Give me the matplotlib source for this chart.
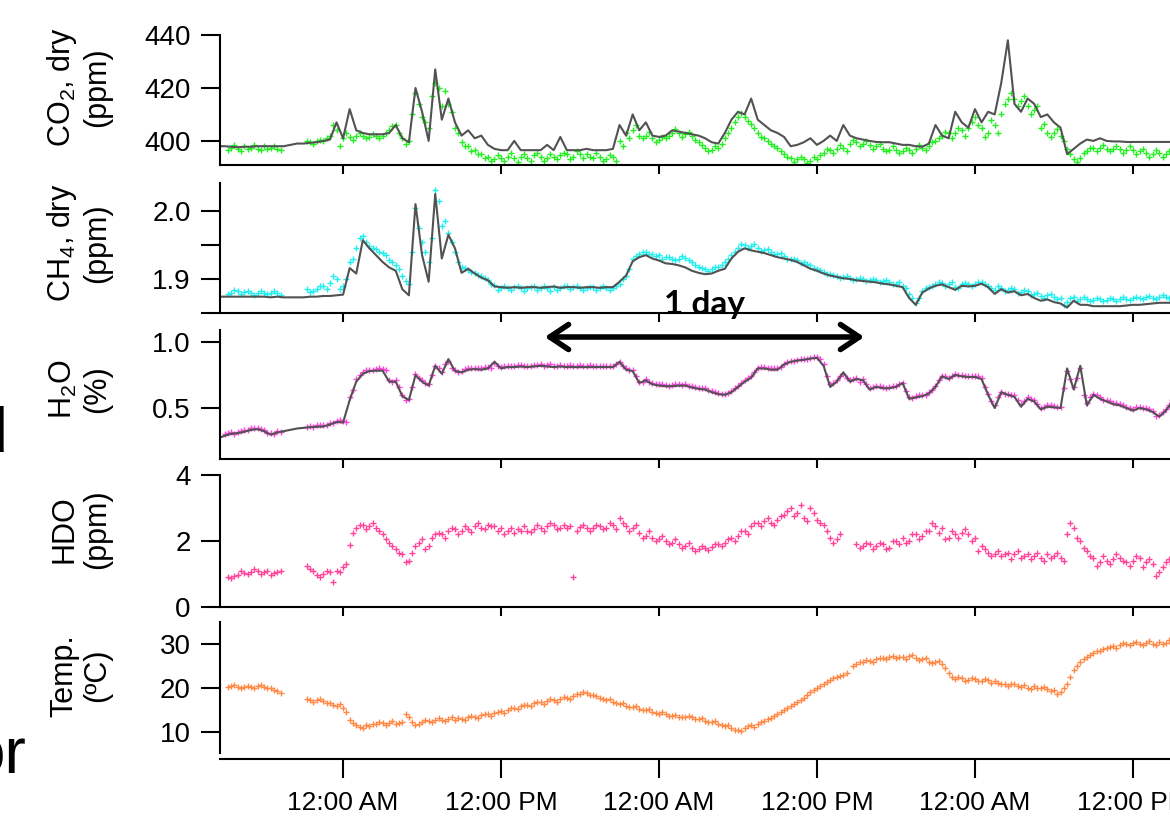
"""Five stacked time series: CO2, CH4, H2O, HDO and temperature."""

import matplotlib

matplotlib.use("Agg")
import matplotlib.dates as mdates
import matplotlib.pyplot as plt
import numpy as np
import pandas as pd

nan = np.nan

# half-hour samples, first one at 2:30 PM the day before the first midnight;
# the "_b" point sets sit a quarter hour later
times = pd.date_range("2014-06-30 14:30", periods=146, freq="30min")
times_b = pd.date_range("2014-06-30 14:45", periods=146, freq="30min")
x_start = pd.Timestamp("2014-06-30 14:39")
x_end = pd.Timestamp("2014-07-03 14:49")

# 12 values per row = 6 hours
co2_line = [
    398, 398, 397.8, 397.6, 397.8, 397.8, 398, 398, 398, 398, 398, 398.5,
    399, 399, 399.3, 399.5, 400, 400.5, 407, 401, 412, 404, 403, 402.5,
    402.5, 402.5, 403, 406, 401, 399.5, 420, 411, 400, 427, 408, 416,
    407, 402, 404, 401, 402, 398.5, 397, 396.5, 396.5, 400, 396.5, 396.5,
    396.5, 396.5, 398.5, 396.5, 401.5, 396.5, 396.5, 396.5, 397, 396.5, 396.5, 396.5,
    397, 406, 402, 410, 404, 407, 402, 401.5, 402, 404, 403.5, 403,
    402.5, 402, 401, 399.5, 399, 403, 408, 411, 410, 416, 408, 406,
    404, 403, 401.5, 398, 398.5, 399.5, 401, 398.5, 400, 402, 400, 406,
    402, 401, 400.5, 400, 399.6, 399.5, 399.5, 399, 398.5, 398.5, 398, 397.8,
    399, 406, 402, 401, 411, 407, 405, 412, 407, 411, 410, 422,
    438, 414, 411, 416, 414, 409, 410, 407, 405, 395, 397, 399,
    400.5, 400, 401, 400, 399.8, 399.8, 399.6, 399.6, 399.6, 399.6, 399.6, 399.6,
    399.6, 399.6,
]
co2_pts = [
    nan, nan, 397.5, 397, 398, 397.5, 397, 398, 397.5, 397, nan, nan,
    nan, nan, 399.5, 399.8, 400, 402, 404, 401, 401.5, 402, 402, 401.5,
    402, 402, 404, 406, 401, 400, 418, 409, 405, 422, 413, 414,
    405, 399.5, 398, 396.5, 395, 394, 393, 393.5, 394, 393.5, 394, 393.5,
    394.5, 394, 393.5, 394, 394.5, 395, 394, 395, 395, 393.5, 394, 393,
    394, 400, 403, 404, 402, 402, 401, 400.5, 401, 403, 403, 402.5,
    402, 399.5, 397.5, 396.5, 397.5, 401, 405, 409, 409, 406.5, 403, 401,
    399, 397.5, 395, 393.5, 393, 393, 392.5, 393, 395.5, 396.5, 397, 397.5,
    399, 399.5, 399, 398.5, 398, 397, 396.5, 396.5, 396, 396.5, 397, 397.5,
    398, 400, 402, 403, 403, 404, 405, 409, 405, 403, 406, 410,
    416, 416, 415, 413, 411.5, 405, 403, 403, 402, 397, 393, 393.5,
    396, 397.5, 397.5, 397, 397, 397, 396.5, 396.5, 396, 395.5, 395, 395.5,
    395, 395,
]
co2_pts_b = [
    nan, 396.5, 398.5, 396, 397, 398.5, 396.5, 397, 398, 396.5, nan, nan,
    nan, 400, 399, 400.5, 401, 406, 398, 403, 400.5, 403, 401, 402.5,
    401, 403, 405.5, 403, 399, 410, 414, 407, 417, 420, 419, 411,
    403, 398, 396, 395, 393.5, 392.5, 394.5, 392.5, 395.5, 392, 395, 392.5,
    395.5, 392.5, 395, 393, 395.5, 393, 396, 393.5, 394, 395.5, 392.5, 394.5,
    392.5, 398, 401, 406, 401, 403.5, 399.5, 401.5, 402, 404.5, 401.5, 403.5,
    400.5, 398.5, 396, 398, 399, 403, 407, 410.5, 407.5, 405, 401.5, 400,
    398, 396, 394, 392, 394, 391.5, 394, 394.5, 397, 395.5, 398.5, 396,
    400.5, 398, 400, 397, 399, 396, 398, 395.5, 397.5, 395.5, 398.5, 396.5,
    399.5, 401, 403.5, 401, 405, 402, 407, 406, 401.5, 408, 403, 414,
    418, 413, 417, 410, 413, 406.5, 401.5, 404.5, 400, 395, 392, 395.5,
    397.5, 396, 398.5, 396, 398, 395.5, 398, 395, 397, 394, 396.5, 394,
    396, 394.5,
]

ch4_line = [
    1.874, 1.874, 1.874, 1.874, 1.874, 1.874, 1.874, 1.874, 1.873, 1.874, 1.873, 1.873,
    1.873, 1.873, 1.874, 1.874, 1.875, 1.875, 1.876, 1.877, 1.916, 1.908, 1.957, 1.945,
    1.935, 1.925, 1.917, 1.912, 1.885, 1.876, 2.01, 1.935, 1.896, 2.025, 1.93, 1.965,
    1.945, 1.909, 1.915, 1.908, 1.902, 1.898, 1.889, 1.888, 1.887, 1.888, 1.887, 1.888,
    1.888, 1.887, 1.888, 1.889, 1.887, 1.888, 1.888, 1.887, 1.888, 1.888, 1.887, 1.888,
    1.888, 1.896, 1.905, 1.926, 1.932, 1.935, 1.93, 1.927, 1.923, 1.922, 1.92, 1.917,
    1.912, 1.909, 1.907, 1.908, 1.912, 1.915, 1.93, 1.94, 1.945, 1.942, 1.94, 1.938,
    1.935, 1.932, 1.93, 1.928, 1.925, 1.92, 1.915, 1.912, 1.908, 1.905, 1.903, 1.901,
    1.9, 1.898, 1.897, 1.896, 1.895, 1.893, 1.892, 1.89, 1.888, 1.872, 1.862, 1.88,
    1.886, 1.89, 1.892, 1.888, 1.884, 1.89, 1.889, 1.89, 1.893, 1.888, 1.878, 1.885,
    1.88, 1.882, 1.876, 1.878, 1.872, 1.868, 1.87, 1.866, 1.864, 1.858, 1.868, 1.862,
    1.862, 1.86, 1.86, 1.86, 1.86, 1.86, 1.861, 1.862, 1.862, 1.863, 1.864, 1.865,
    1.865, 1.865,
]
ch4_pts = [
    nan, nan, 1.88, 1.882, 1.881, 1.88, 1.879, 1.88, 1.879, 1.88, nan, nan,
    nan, nan, 1.881, 1.885, 1.889, 1.894, 1.9, 1.889, 1.925, 1.945, 1.963, 1.948,
    1.944, 1.938, 1.928, 1.92, 1.905, 1.892, 2.005, 1.955, 1.925, 2.03, 1.978, 1.968,
    1.94, 1.918, 1.913, 1.909, 1.905, 1.899, 1.891, 1.887, 1.886, 1.888, 1.886, 1.887,
    1.889, 1.887, 1.886, 1.888, 1.887, 1.889, 1.888, 1.887, 1.886, 1.888, 1.887, 1.886,
    1.886, 1.893, 1.905, 1.93, 1.937, 1.94, 1.937, 1.935, 1.932, 1.93, 1.93, 1.931,
    1.925, 1.918, 1.915, 1.914, 1.918, 1.925, 1.935, 1.945, 1.95, 1.948, 1.945, 1.943,
    1.94, 1.937, 1.934, 1.93, 1.928, 1.925, 1.92, 1.915, 1.91, 1.907, 1.905, 1.903,
    1.902, 1.9, 1.9, 1.899, 1.898, 1.897, 1.896, 1.893, 1.89, 1.878, 1.865, 1.882,
    1.888, 1.892, 1.894, 1.892, 1.888, 1.892, 1.892, 1.893, 1.895, 1.89, 1.884, 1.887,
    1.884, 1.885, 1.881, 1.882, 1.878, 1.875, 1.876, 1.873, 1.872, 1.866, 1.874, 1.87,
    1.871, 1.869, 1.87, 1.869, 1.87, 1.871, 1.87, 1.872, 1.872, 1.873, 1.872, 1.874,
    1.873, 1.874,
]
ch4_pts_b = [
    nan, 1.878, 1.884, 1.878, 1.883, 1.877, 1.882, 1.878, 1.883, 1.877, nan, nan,
    nan, 1.885, 1.883, 1.89, 1.885, 1.905, 1.885, 1.9, 1.93, 1.96, 1.955, 1.945,
    1.94, 1.935, 1.925, 1.915, 1.897, 1.94, 1.975, 1.94, 1.96, 2.015, 1.985, 1.955,
    1.925, 1.916, 1.91, 1.906, 1.901, 1.893, 1.884, 1.889, 1.884, 1.89, 1.883, 1.888,
    1.884, 1.89, 1.883, 1.884, 1.89, 1.885, 1.89, 1.884, 1.888, 1.884, 1.889, 1.884,
    1.89, 1.9, 1.915, 1.934, 1.94, 1.936, 1.934, 1.929, 1.933, 1.928, 1.934, 1.928,
    1.921, 1.916, 1.912, 1.917, 1.92, 1.93, 1.94, 1.951, 1.946, 1.951, 1.941, 1.944,
    1.936, 1.938, 1.93, 1.93, 1.924, 1.922, 1.916, 1.913, 1.908, 1.906, 1.902, 1.904,
    1.898, 1.902, 1.897, 1.9, 1.895, 1.898, 1.893, 1.895, 1.886, 1.872, 1.872, 1.886,
    1.89, 1.896, 1.89, 1.895, 1.886, 1.894, 1.889, 1.896, 1.892, 1.886, 1.89, 1.883,
    1.887, 1.879, 1.884, 1.876, 1.88, 1.872, 1.878, 1.87, 1.862, 1.872, 1.868, 1.873,
    1.868, 1.872, 1.867, 1.872, 1.868, 1.873, 1.869, 1.874, 1.87, 1.875, 1.871, 1.876,
    1.872, 1.875,
]

h2o_line = [
    0.27, 0.29, 0.305, 0.31, 0.32, 0.335, 0.34, 0.325, 0.298, 0.315, 0.325, 0.335,
    0.345, 0.35, 0.355, 0.358, 0.36, 0.375, 0.395, 0.39, 0.56, 0.7, 0.76, 0.78,
    0.783, 0.783, 0.7, 0.7, 0.59, 0.56, 0.75, 0.7, 0.67, 0.82, 0.76, 0.87,
    0.78, 0.77, 0.79, 0.795, 0.79, 0.8, 0.85, 0.8, 0.81, 0.81, 0.815, 0.81,
    0.815, 0.82, 0.815, 0.81, 0.815, 0.81, 0.81, 0.81, 0.81, 0.81, 0.81, 0.81,
    0.81, 0.85, 0.79, 0.78, 0.69, 0.71, 0.68, 0.67, 0.665, 0.665, 0.67, 0.67,
    0.655, 0.645, 0.64, 0.62, 0.605, 0.6, 0.62, 0.66, 0.7, 0.73, 0.8, 0.8,
    0.79, 0.79, 0.83, 0.85, 0.86, 0.865, 0.875, 0.88, 0.82, 0.66, 0.7, 0.77,
    0.7, 0.72, 0.71, 0.64, 0.66, 0.65, 0.65, 0.66, 0.69, 0.57, 0.58, 0.59,
    0.61, 0.66, 0.74, 0.72, 0.75, 0.74, 0.735, 0.735, 0.72, 0.6, 0.5, 0.62,
    0.6, 0.585, 0.51, 0.57, 0.55, 0.49, 0.51, 0.505, 0.5, 0.8, 0.64, 0.82,
    0.52, 0.6, 0.57, 0.55, 0.53, 0.52, 0.5, 0.48, 0.5, 0.49, 0.47, 0.435,
    0.48, 0.55,
]
h2o_pts = [
    nan, 0.3, 0.315, 0.32, 0.33, 0.345, 0.35, 0.335, 0.31, 0.325, nan, nan,
    nan, nan, 0.365, 0.368, 0.372, 0.385, 0.405, 0.4, 0.58, 0.72, 0.775, 0.79,
    0.795, 0.795, 0.71, 0.71, 0.6, 0.57, 0.76, 0.71, 0.68, 0.82, 0.77, 0.86,
    0.79, 0.78, 0.8, 0.805, 0.8, 0.81, 0.84, 0.81, 0.82, 0.82, 0.825, 0.82,
    0.825, 0.83, 0.825, 0.82, 0.825, 0.82, 0.82, 0.825, 0.82, 0.82, 0.82, 0.815,
    0.82, 0.85, 0.8, 0.79, 0.7, 0.72, 0.69, 0.68, 0.675, 0.675, 0.68, 0.68,
    0.665, 0.655, 0.65, 0.63, 0.615, 0.61, 0.63, 0.67, 0.71, 0.74, 0.8, 0.81,
    0.8, 0.8, 0.835, 0.855, 0.865, 0.87, 0.88, 0.885, 0.83, 0.68, 0.71, 0.76,
    0.71, 0.73, 0.72, 0.655, 0.67, 0.66, 0.66, 0.67, 0.69, 0.58, 0.59, 0.6,
    0.62, 0.67, 0.745, 0.73, 0.755, 0.75, 0.745, 0.745, 0.73, 0.61, 0.52, 0.625,
    0.61, 0.595, 0.53, 0.58, 0.56, 0.5, 0.52, 0.515, 0.51, 0.78, 0.66, 0.8,
    0.54, 0.61, 0.58, 0.56, 0.54, 0.53, 0.51, 0.49, 0.51, 0.5, 0.48, 0.45,
    0.49, 0.56,
]
h2o_pts_b = [
    nan, 0.31, 0.305, 0.325, 0.335, 0.345, 0.34, 0.31, 0.305, 0.32, nan, nan,
    nan, 0.36, 0.36, 0.37, 0.375, 0.39, 0.41, 0.395, 0.64, 0.75, 0.785, 0.79,
    0.8, 0.79, 0.7, 0.66, 0.56, 0.66, 0.73, 0.69, 0.75, 0.8, 0.83, 0.8,
    0.775, 0.795, 0.8, 0.8, 0.81, 0.805, 0.82, 0.82, 0.815, 0.825, 0.82, 0.82,
    0.825, 0.82, 0.83, 0.82, 0.82, 0.825, 0.82, 0.82, 0.825, 0.82, 0.82, 0.82,
    0.83, 0.82, 0.79, 0.74, 0.7, 0.7, 0.685, 0.68, 0.67, 0.68, 0.675, 0.67,
    0.66, 0.65, 0.64, 0.62, 0.61, 0.615, 0.65, 0.69, 0.725, 0.77, 0.81, 0.8,
    0.8, 0.81, 0.845, 0.86, 0.87, 0.875, 0.885, 0.875, 0.74, 0.69, 0.74, 0.73,
    0.72, 0.7, 0.68, 0.66, 0.665, 0.655, 0.665, 0.68, 0.63, 0.575, 0.6, 0.6,
    0.64, 0.71, 0.74, 0.74, 0.75, 0.745, 0.74, 0.74, 0.66, 0.55, 0.58, 0.61,
    0.6, 0.56, 0.55, 0.57, 0.53, 0.51, 0.52, 0.51, 0.65, 0.72, 0.73, 0.6,
    0.58, 0.6, 0.56, 0.55, 0.535, 0.52, 0.5, 0.505, 0.5, 0.49, 0.44, 0.47,
    0.52, 0.55,
]

hdo_pts = [
    nan, nan, 0.88, 0.97, 1.02, 1.07, 1.1, 1.05, 0.98, 1.05, nan, nan,
    nan, nan, 1.15, 0.98, 1.0, 1.05, 1.1, 1.2, 1.88, 2.4, 2.48, 2.45,
    2.38, 2.2, 1.95, 1.75, 1.6, 1.4, 1.85, 2.05, 1.85, 2.2, 2.2, 2.3,
    2.35, 2.3, 2.35, 2.45, 2.4, 2.5, 2.45, 2.38, 2.3, 2.25, 2.3, 2.3,
    2.35, 2.4, 2.45, 2.5, 2.4, 2.38, 0.9, 2.42, 2.4, 2.38, 2.45, 2.4,
    2.5, 2.7, 2.45, 2.4, 2.25, 2.15, 2.1, 2.05, 2.0, 1.95, 1.9, 1.85,
    1.8, 1.75, 1.78, 1.82, 1.9, 1.95, 2.1, 2.15, 2.3, 2.45, 2.55, 2.6,
    2.55, 2.65, 2.8, 3.0, 2.85, 2.7, 3.0, 2.65, 2.5, 2.1, 2.05, nan,
    nan, 1.9, 1.85, 1.9, 1.85, 1.9, 1.8, 2.0, 2.1, 2.0, 2.2, 2.15,
    2.3, 2.45, 2.4, 2.1, 2.2, 2.25, 2.2, 2.1, 1.85, 1.65, 1.6, 1.55,
    1.65, 1.6, 1.5, 1.6, 1.55, 1.5, 1.6, 1.55, 1.5, 2.2, 2.4, 2.0,
    1.7, 1.5, 1.35, 1.4, 1.45, 1.5, 1.35, 1.4, 1.5, 1.35, 1.3, 1.05,
    1.35, 1.3,
]
hdo_pts_b = [
    nan, 0.92, 0.95, 1.1, 1.0, 1.15, 1.0, 1.08, 1.02, 1.1, nan, nan,
    nan, 1.25, 1.1, 0.92, 1.08, 0.75, 1.05, 1.3, 2.25, 2.5, 2.35, 2.55,
    2.3, 2.05, 1.85, 1.65, 1.35, 1.65, 1.95, 1.75, 2.1, 2.25, 2.1, 2.4,
    2.2, 2.45, 2.28, 2.55, 2.35, 2.45, 2.3, 2.2, 2.4, 2.35, 2.45, 2.28,
    2.5, 2.3, 2.55, 2.35, 2.5, 2.45, 2.3, 2.5, 2.3, 2.5, 2.35, 2.55,
    2.35, 2.55, 2.3, 2.5, 2.1, 2.3, 2.0, 2.15, 1.9, 2.05, 1.8, 1.95,
    1.7, 1.85, 1.72, 1.9, 1.85, 2.05, 2.0, 2.3, 2.2, 2.55, 2.45, 2.7,
    2.5, 2.75, 2.9, 2.75, 3.1, 2.6, 2.85, 2.55, 2.3, 1.95, 2.2, nan,
    nan, 1.8, 1.95, 1.75, 1.95, 1.75, 2.0, 1.9, 1.95, 2.2, 2.05, 2.3,
    2.55, 2.25, 2.05, 2.3, 2.1, 2.35, 2.0, 1.7, 1.75, 1.55, 1.7, 1.6,
    1.45, 1.7, 1.55, 1.45, 1.65, 1.4, 1.5, 1.65, 1.4, 2.55, 2.1, 1.8,
    1.55, 1.25, 1.55, 1.3, 1.6, 1.4, 1.25, 1.55, 1.2, 1.45, 0.95, 1.2,
    1.45, 1.2,
]

temp_pts = [
    nan, nan, 20.5, 20.3, 20.2, 20.3, 20.4, 20.2, 19.9, 19.4, nan, nan,
    nan, nan, 17.2, 17.3, 17.0, 16.5, 15.8, 15.5, 12.8, 11.5, 11.0, 11.4,
    11.8, 12.0, 12.0, 11.8, 12.2, 13.5, 11.5, 12.3, 12.5, 12.8, 12.7, 13.0,
    12.8, 13.0, 13.3, 13.5, 13.8, 14.0, 14.3, 14.8, 15.0, 15.5, 15.8, 16.2,
    16.5, 16.8, 17.0, 17.3, 17.5, 17.8, 18.2, 18.7, 18.8, 18.5, 17.8, 17.2,
    16.8, 16.3, 16.0, 15.6, 15.3, 15.0, 14.6, 14.2, 14.0, 13.7, 13.5, 13.5,
    13.3, 13.0, 12.6, 12.2, 11.8, 11.3, 10.8, 10.5, 11.0, 11.5, 11.8, 12.5,
    13.2, 14.0, 15.0, 15.8, 16.8, 17.8, 19.0, 20.0, 21.0, 21.8, 22.5, 23.0,
    nan, 25.5, 26.0, 26.2, 26.5, 26.8, 27.0, 26.8, 27.0, 27.2, 26.8, 26.5,
    26.0, 25.8, 25.5, 23.5, 22.0, 22.2, 21.8, 22.0, 21.5, 21.8, 21.5, 21.0,
    20.5, 20.8, 20.3, 20.0, 20.5, 20.0, 19.8, 19.5, 19.0, 21.0, 24.0, 26.0,
    27.0, 28.0, 28.5, 29.0, 29.5, 29.8, 30.0, 30.2, 30.0, 30.3, 30.0, 30.5,
    30.3, 30.0,
]
temp_pts_b = [
    nan, 20.2, 20.6, 20.0, 20.5, 20.1, 20.6, 20.0, 19.6, 18.9, nan, nan,
    nan, 17.6, 16.9, 17.5, 16.7, 16.2, 16.3, 14.5, 12.0, 11.2, 11.6, 11.9,
    12.3, 11.6, 12.4, 12.1, 14.0, 12.2, 11.8, 12.8, 12.3, 13.2, 12.4, 13.3,
    13.1, 12.7, 13.6, 13.2, 14.1, 13.7, 14.6, 14.4, 15.4, 15.2, 16.2, 15.9,
    16.9, 16.4, 17.4, 16.9, 17.9, 17.4, 18.6, 19.2, 18.4, 18.2, 17.4, 17.5,
    16.5, 16.6, 15.7, 15.9, 15.0, 15.2, 14.3, 14.5, 13.7, 13.9, 13.3, 13.7,
    13.0, 13.2, 12.3, 12.4, 11.5, 11.6, 10.5, 10.2, 11.3, 11.2, 12.2, 12.9,
    13.6, 14.5, 15.4, 16.3, 17.3, 18.3, 19.5, 20.5, 21.3, 22.2, 22.8, 23.5,
    25.0, 25.8, 26.3, 26.0, 26.8, 26.5, 27.3, 27.1, 26.7, 27.5, 26.3, 26.8,
    25.6, 26.1, 24.5, 22.5, 22.5, 21.6, 22.3, 21.7, 22.1, 21.2, 21.2, 20.8,
    20.9, 20.4, 20.6, 19.7, 20.1, 20.3, 19.4, 18.7, 20.0, 22.5, 25.0, 26.5,
    27.6, 28.3, 28.8, 29.3, 29.2, 30.2, 29.7, 30.5, 29.7, 30.6, 29.8, 30.1,
    30.8, 29.8,
]

plt.rcParams["font.family"] = ["Liberation Sans", "DejaVu Sans"]
plt.rcParams["mathtext.fontset"] = "custom"
plt.rcParams["mathtext.rm"] = "Liberation Sans"
plt.rcParams["mathtext.it"] = "Liberation Sans:italic"

W, H = 1170, 822
fig = plt.figure(figsize=(W / 100, H / 100), dpi=100)

LINE_C = "#525252"

# (top px, bottom px, ylim, ticks, labels, ylabel, label y, points, points b, colour, line)
panels = [
    (35, 165, (390.9, 440), [400, 420, 440], ["400", "420", "440"],
     "CO$_2$, dry\n(ppm)", 0.6, co2_pts, co2_pts_b, "#22ee22", co2_line),
    (183, 313, (1.85, 2.041), [1.85, 1.9, 1.95, 2.0], ["", "1.9", "", "2.0"],
     "CH$_4$, dry\n(ppm)", 0.54, ch4_pts, ch4_pts_b, "#22eeee", ch4_line),
    (330, 459, (0.114, 1.091), [0.5, 1.0], ["0.5", "1.0"],
     "H$_2$O\n(%)", 0.54, h2o_pts, h2o_pts_b, "#ff44dd", h2o_line),
    (475, 607, (0, 4), [0, 2, 4], ["0", "2", "4"],
     "HDO\n(ppm)", 0.59, hdo_pts, hdo_pts_b, "#ff4499", None),
    (622, 753, (5.23, 35), [10, 20, 30], ["10", "20", "30"],
     "Temp.\n(ºC)", 0.59, temp_pts, temp_pts_b, "#ff8844", None),
]

left = 220 / W
width = 1 - left
for i, (top, bot, ylim, yt, ytl, ylab, ly, pts, pts_b, col, line) in enumerate(panels):
    ax = fig.add_axes([left, 1 - bot / H, width, (bot - top) / H])
    ax.plot(times, pts, ls="none", marker="+", ms=5, mew=1.0, color=col)
    ax.plot(times_b, pts_b, ls="none", marker="+", ms=5, mew=1.0, color=col)
    if line is not None:
        ax.plot(times, line, color=LINE_C, lw=1.5)
    ax.set_xlim(x_start, x_end)
    ax.set_ylim(*ylim)
    ax.set_yticks(yt)
    ax.set_yticklabels(ytl)
    for s in ("top", "right"):
        ax.spines[s].set_visible(False)
    for s in ("left", "bottom"):
        ax.spines[s].set_linewidth(1.5)
    ax.xaxis.set_major_locator(mdates.HourLocator(byhour=[0, 12]))
    ax.xaxis.set_major_formatter(mdates.DateFormatter("%I:%M %p"))
    ax.tick_params(axis="y", length=14, width=1.5, pad=7, labelsize=20)
    ax.set_ylabel(ylab, fontsize=22, linespacing=1.1)
    ax.yaxis.set_label_coords(-0.114, ly)
    if i < len(panels) - 1:
        ax.tick_params(axis="x", length=6.5, width=1.5, labelbottom=False)
    else:
        ax.spines["bottom"].set_position(("outward", 4))
        ax.tick_params(axis="x", length=14, width=1.5, pad=9, labelsize=19)

# 1 day marker
fig.text(705 / W, 1 - 314 / H, "1 day", ha="center", va="baseline",
         fontsize=24, fontweight="bold", family=["Lato", "DejaVu Sans"])
fig.add_artist(matplotlib.patches.FancyArrowPatch(
    (542 / W, 1 - 337 / H), (867 / W, 1 - 337 / H),
    transform=fig.transFigure, arrowstyle="<->,head_length=0.9,head_width=0.6",
    mutation_scale=15, lw=4, color="black"))

# slide text cut off at the left edge
fig.text(7 / W, 1 - 451 / H, "d", ha="right", va="baseline", fontsize=45)
fig.text(26 / W, 1 - 773 / H, "or", ha="right", va="baseline", fontsize=46)

fig.savefig("out.png", dpi=100)
